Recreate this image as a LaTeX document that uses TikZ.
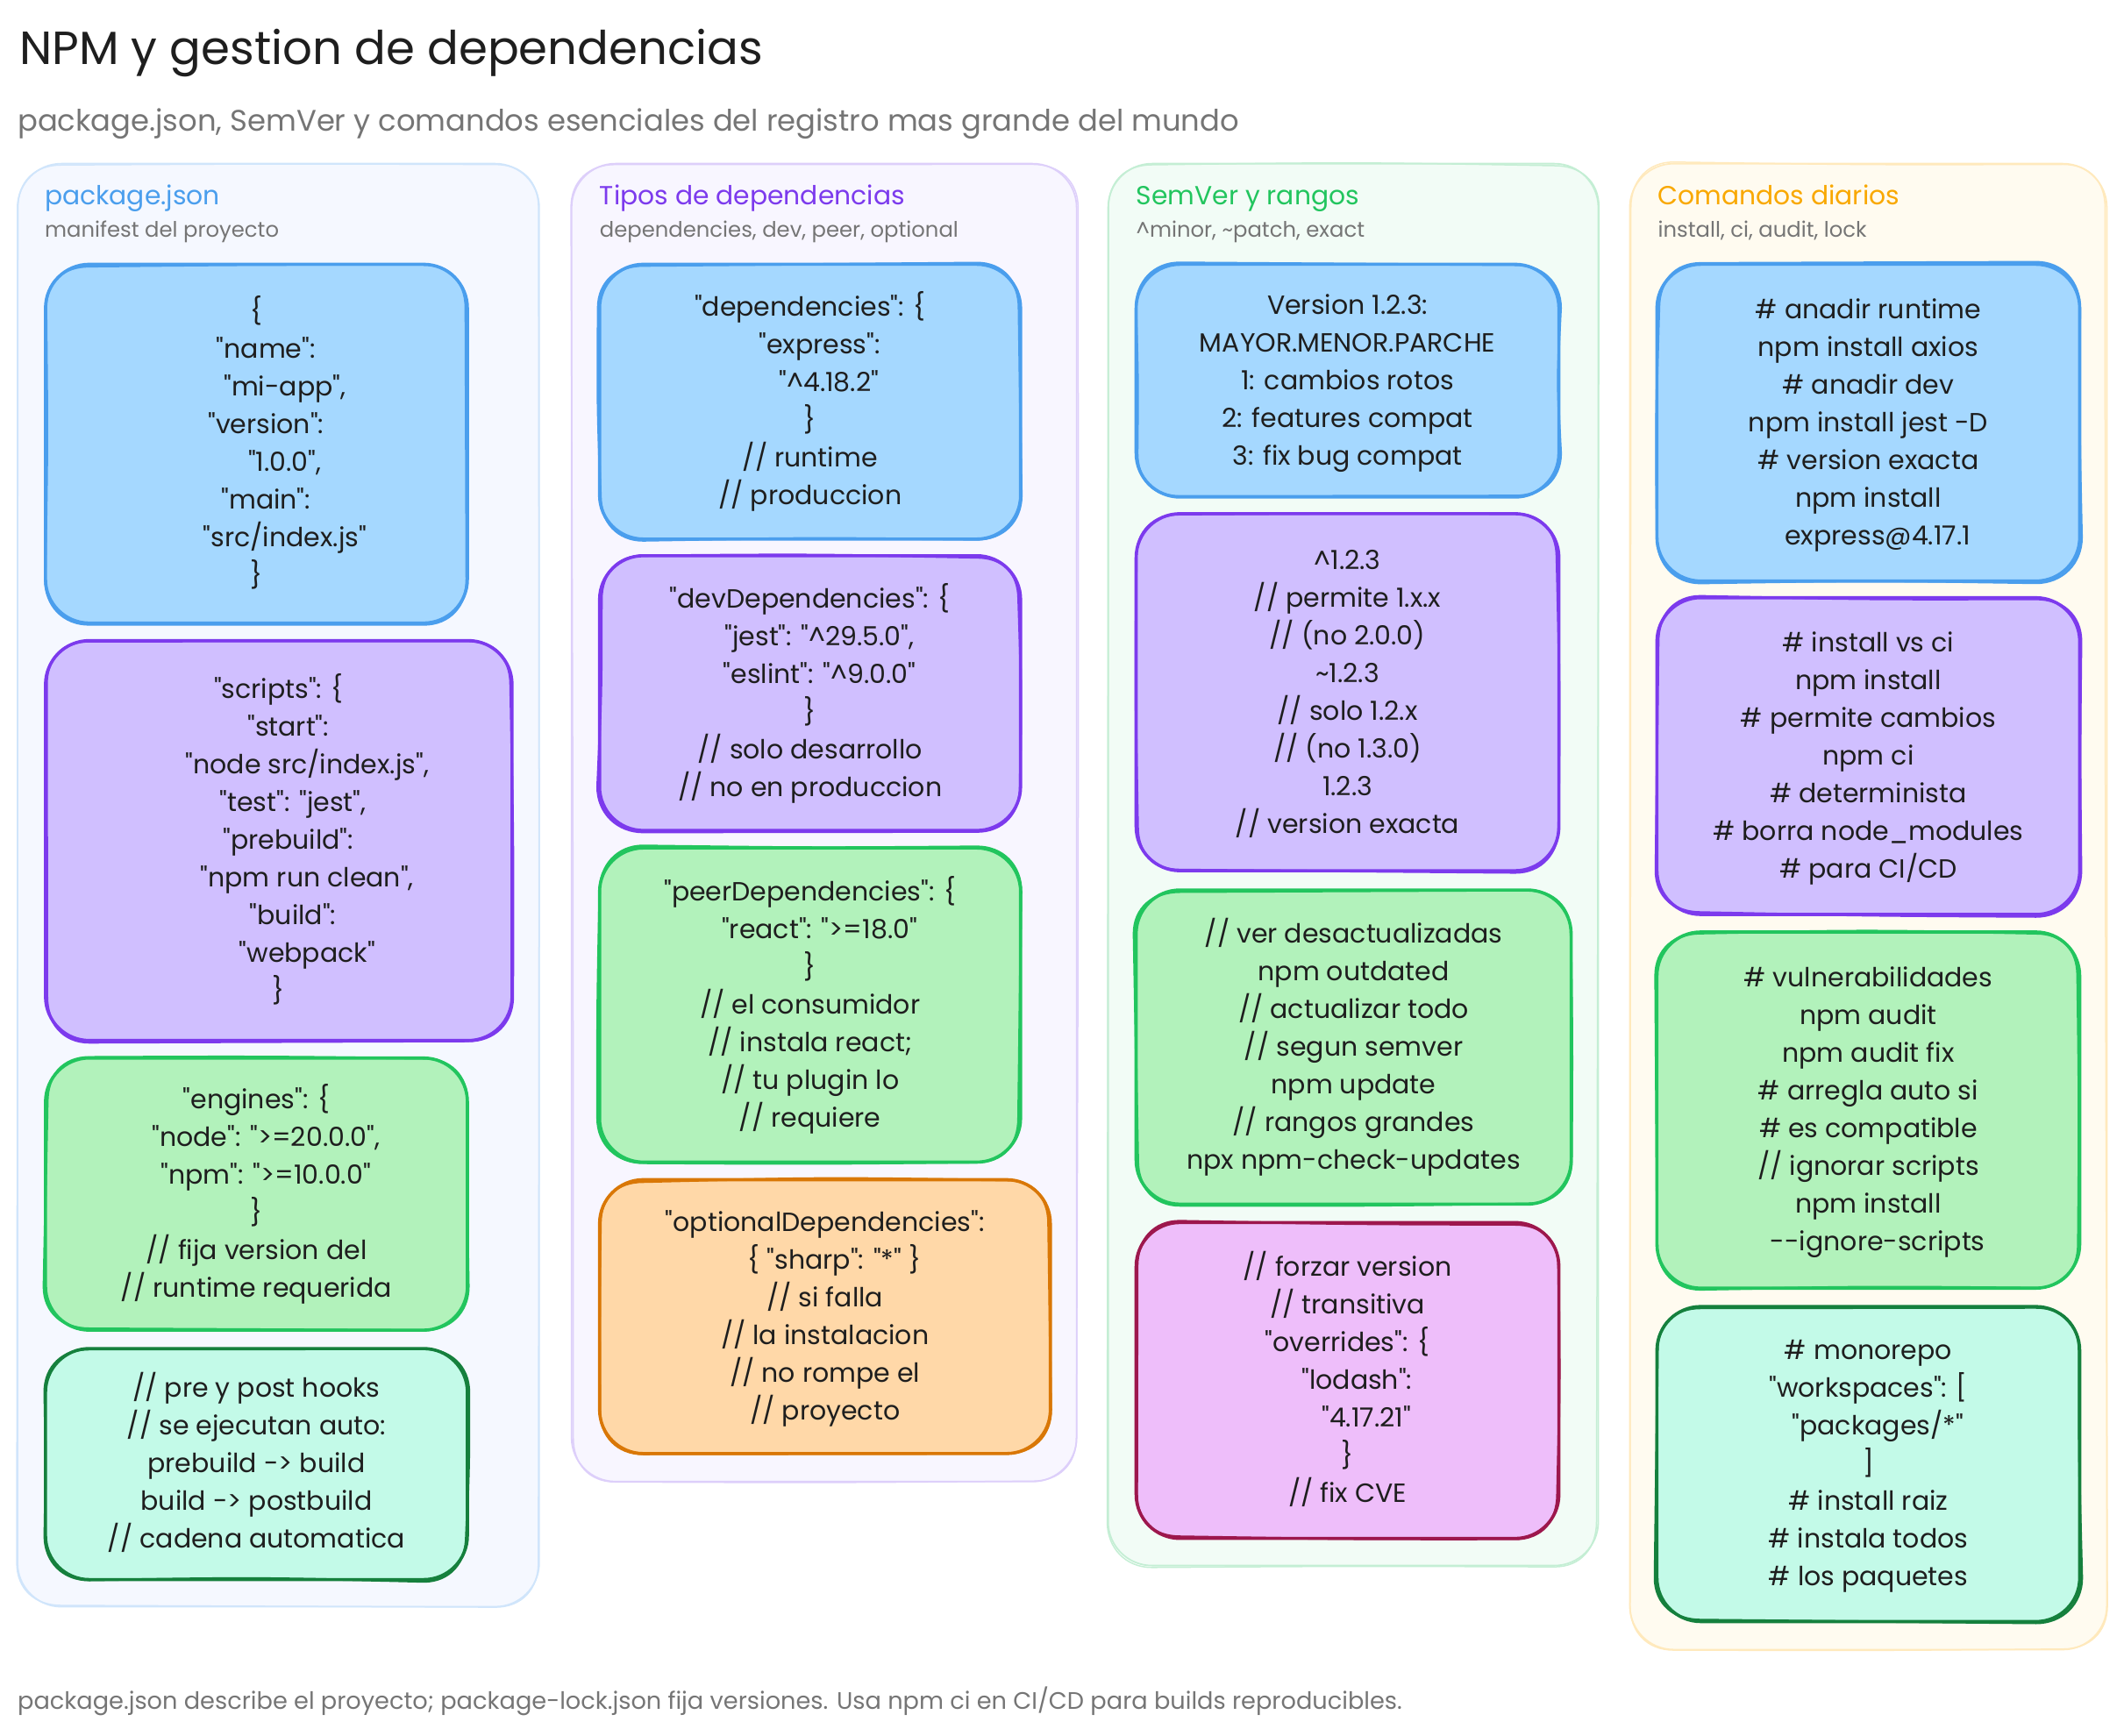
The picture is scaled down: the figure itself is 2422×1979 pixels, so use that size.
\documentclass[tikz,border=0pt]{standalone}
\usepackage{fontspec}
\usetikzlibrary{calc}
\setmainfont{Poppins}[Ligatures=Common]
\definecolor{ink}{HTML}{1E1E1E}
\definecolor{muted}{HTML}{757575}
\definecolor{bbfill}{HTML}{A5D8FF}\definecolor{bbline}{HTML}{4A9EED}
\definecolor{ppfill}{HTML}{D0BFFF}\definecolor{ppline}{HTML}{7C3AED}
\definecolor{ggfill}{HTML}{B2F2BB}\definecolor{ggline}{HTML}{22C55E}
\definecolor{oofill}{HTML}{FFD8A8}\definecolor{ooline}{HTML}{D97706}
\definecolor{ttfill}{HTML}{C3FAE8}\definecolor{ttline}{HTML}{15803D}
\definecolor{kkfill}{HTML}{EEBEFA}\definecolor{kkline}{HTML}{9D174D}
\definecolor{p1fill}{HTML}{F5F8FF}\definecolor{p1line}{HTML}{D0E5FB}\definecolor{p1title}{HTML}{4A9EED}
\definecolor{p2fill}{HTML}{F8F6FF}\definecolor{p2line}{HTML}{DDCFFA}\definecolor{p2title}{HTML}{7C3AED}
\definecolor{p3fill}{HTML}{F2FCF6}\definecolor{p3line}{HTML}{C4EED4}\definecolor{p3title}{HTML}{22C55E}
\definecolor{p4fill}{HTML}{FFFBF0}\definecolor{p4line}{HTML}{FFE9BC}\definecolor{p4title}{HTML}{F9A800}
\newcommand\lead[1]{\hspace*{\dimexpr #1\dimexpr 10.8pt\relax\relax}}
\newcommand\oq{\textquotedbl}
\def\pxs{0.9981}
\tikzset{
  x=\pxs pt,y=-\pxs pt,
  skbox/.style={rectangle,rounded corners=50pt,inner sep=0pt,outer sep=0pt,line width=3.6pt,
    align=center,text=ink,font=\fontsize{30}{43}\selectfont},
  skagain/.style={line width=2.6pt,line join=round,line cap=round},
  panelbox/.style={rectangle,rounded corners=50pt,inner sep=0pt,outer sep=0pt,line width=1.8pt},
  panelagain/.style={line width=1.5pt,line join=round,line cap=round},
  maintitle/.style={anchor=base west,inner sep=0pt,text=ink,font=\fontsize{53}{60}\selectfont},
  subtitle/.style={anchor=base west,inner sep=0pt,text=muted,font=\fontsize{33.8}{40}\selectfont},
  paneltitle/.style={anchor=base west,inner sep=0pt,font=\fontsize{29.8}{36}\selectfont},
  panelsub/.style={anchor=base west,inner sep=0pt,text=muted,font=\fontsize{24.3}{30}\selectfont},
  foot/.style={anchor=base west,inner sep=0pt,text=muted,font=\fontsize{27.2}{34}\selectfont},
}
% hand-drawn second stroke: x1,y1,x2,y2,r,amplitude,style
\newcommand\rough[7]{%
  \pgfmathsetmacro\ja{rand*#6}\pgfmathsetmacro\jb{rand*#6}\pgfmathsetmacro\jc{rand*#6}\pgfmathsetmacro\jd{rand*#6}%
  \pgfmathsetmacro\je{rand*#6}\pgfmathsetmacro\jf{rand*#6}\pgfmathsetmacro\jg{rand*#6}\pgfmathsetmacro\jh{rand*#6}%
  \pgfmathsetmacro\ji{rand*#6}\pgfmathsetmacro\jj{rand*#6}\pgfmathsetmacro\jk{rand*#6}\pgfmathsetmacro\jl{rand*#6}%
  \pgfmathsetmacro\xm{(#1+#3)/2}\pgfmathsetmacro\ym{(#2+#4)/2}%
  \draw[#7]
    ({#1+#5},{#2+\ja}) .. controls (\xm,{#2+\jb}) .. ({#3-#5},{#2+\jc})
    .. controls ({#3-.4*#5},{#2+\jc}) and ({#3+\jd},{#2+.4*#5}) .. ({#3+\jd},{#2+#5})
    .. controls ({#3+\je},\ym) .. ({#3+\jf},{#4-#5})
    .. controls ({#3+\jf},{#4-.4*#5}) and ({#3-.4*#5},{#4+\jg}) .. ({#3-#5},{#4+\jg})
    .. controls (\xm,{#4+\jh}) .. ({#1+#5},{#4+\ji})
    .. controls ({#1+.4*#5},{#4+\ji}) and ({#1+\jj},{#4-.4*#5}) .. ({#1+\jj},{#4-#5})
    .. controls ({#1+\jk},\ym) .. ({#1+\jl},{#2+#5})
    .. controls ({#1+\jl},{#2+.4*#5}) and ({#1+.4*#5},{#2+\ja}) .. ({#1+#5},{#2+\ja});
}
% name, x1, y1, x2, y2, colour prefix, text
\newcommand\skb[7]{%
  \node[skbox,fill=#6fill,draw=#6line,minimum width={(#4-#2)*\pxs pt},minimum height={(#5-#3)*\pxs pt}]
    (#1) at ({(#2+#4)/2},{(#3+#5)/2}) {\rule{0pt}{\dimexpr\ht\strutbox+3pt\relax}#7\strut};
  \rough{#2}{#3}{#4}{#5}{50}{2.6}{skagain,draw=#6line}
}
% name, x1, y1, x2, y2, colour prefix
\newcommand\pnl[6]{%
  \node[panelbox,fill=#6fill,draw=#6line,minimum width={(#4-#2)*\pxs pt},minimum height={(#5-#3)*\pxs pt}]
    (#1) at ({(#2+#4)/2},{(#3+#5)/2}) {};
  \rough{#2}{#3}{#4}{#5}{50}{2.4}{panelagain,draw=#6line}
}
\begin{document}
\begin{tikzpicture}
\pgfmathsetseed{11}
\useasboundingbox (0pt,0pt) rectangle (2422pt,-1979pt);

\node[maintitle] (title) at (22,74) {NPM y gestion de dependencias};
\node[subtitle] (subt) at (20,150) {package.json, SemVer y comandos esenciales del registro mas grande del mundo};

\pnl{p1}{20}{187}{616}{1836}{p1}
\pnl{p2}{653}{187}{1230}{1693}{p2}
\pnl{p3}{1266}{187}{1826}{1789}{p3}
\pnl{p4}{1862}{187}{2407}{1885}{p4}

\node[paneltitle,text=p1title] (t1) at (51,234) {package.json};
\node[panelsub] (s1) at (51,271) {manifest del proyecto};
\node[paneltitle,text=p2title] (t2) at (685,234) {Tipos de dependencias};
\node[panelsub] (s2) at (685,271) {dependencies, dev, peer, optional};
\node[paneltitle,text=p3title] (t3) at (1298,234) {SemVer y rangos};
\node[panelsub] (s3) at (1298,271) {\textasciicircum minor, \textasciitilde patch, exact};
\node[paneltitle,text=p4title] (t4) at (1894,234) {Comandos diarios};
\node[panelsub] (s4) at (1894,271) {install, ci, audit, lock};

% column 1
\skb{a1}{52}{302}{534}{712}{bb}{\{\\\lead{2}\oq name\oq:\\\lead{6}\oq mi-app\oq,\\\lead{2}\oq version\oq:\\\lead{6}\oq 1.0.0\oq,\\\lead{2}\oq main\oq:\\\lead{6}\oq src/index.js\oq\\\}}
\skb{a2}{52}{732}{585}{1189}{pp}{\oq scripts\oq: \{\\\lead{2}\oq start\oq:\\\lead{6}\oq node src/index.js\oq,\\\lead{3}\oq test\oq: \oq jest\oq,\\\lead{2}\oq prebuild\oq:\\\lead{6}\oq npm run clean\oq,\\\lead{3}\oq build\oq:\\\lead{6}\oq webpack\oq\\\}}
\skb{a3}{52}{1209}{534}{1520}{gg}{\oq engines\oq: \{\\\lead{2}\oq node\oq: \oq>=20.0.0\oq,\\\lead{2}\oq npm\oq: \oq>=10.0.0\oq\\\}\\// fija version del\\// runtime requerida}
\skb{a4}{52}{1541}{534}{1805}{tt}{// pre y post hooks\\// se ejecutan auto:\\prebuild -> build\\build -> postbuild\\// cadena automatica}

% column 2
\skb{b1}{685}{302}{1166}{616}{bb}{\oq dependencies\oq: \{\\\lead{2}\oq express\oq:\\\lead{4}\oq\textasciicircum 4.18.2\oq\\\}\\// runtime\\// produccion}
\skb{b2}{685}{635}{1166}{949}{pp}{\oq devDependencies\oq: \{\\\lead{2}\oq jest\oq: \oq\textasciicircum 29.5.0\oq,\\\lead{2}\oq eslint\oq: \oq\textasciicircum 9.0.0\oq\\\}\\// solo desarrollo\\// no en produccion}
\skb{b3}{685}{969}{1166}{1328}{gg}{\oq peerDependencies\oq: \{\\\lead{2}\oq react\oq: \oq>=18.0\oq\\\}\\// el consumidor\\// instala react;\\// tu plugin lo\\// requiere}
\skb{b4}{685}{1348}{1200}{1661}{oo}{\oq optionalDependencies\oq:\\\lead{2}\{ \oq sharp\oq: \oq*\oq\ \}\\// si falla\\// la instalacion\\// no rompe el\\// proyecto}

% column 3
\skb{c1}{1298}{302}{1781}{568}{bb}{Version 1.2.3:\\MAYOR.MENOR.PARCHE\\1: cambios rotos\\2: features compat\\3: fix bug compat}
\skb{c2}{1298}{587}{1781}{995}{pp}{\textasciicircum 1.2.3\\// permite 1.x.x\\// (no 2.0.0)\\\textasciitilde 1.2.3\\// solo 1.2.x\\// (no 1.3.0)\\1.2.3\\// version exacta}
\skb{c3}{1298}{1017}{1795}{1376}{gg}{// ver desactualizadas\\npm outdated\\// actualizar todo\\// segun semver\\npm update\\// rangos grandes\\npx npm-check-updates}
\skb{c4}{1298}{1397}{1781}{1758}{kk}{// forzar version\\// transitiva\\\oq overrides\oq: \{\\\lead{2}\oq lodash\oq:\\\lead{4}\oq 4.17.21\oq\\\}\\// fix CVE}

% column 4
\skb{d1}{1893}{302}{2376}{664}{bb}{\# anadir runtime\\npm install axios\\\# anadir dev\\npm install jest -D\\\# version exacta\\npm install\\\lead{2}express@4.17.1}
\skb{d2}{1893}{683}{2376}{1045}{pp}{\# install vs ci\\npm install\\\# permite cambios\\npm ci\\\# determinista\\\# borra node\_modules\\\# para CI/CD}
\skb{d3}{1893}{1065}{2376}{1472}{gg}{\# vulnerabilidades\\npm audit\\npm audit fix\\\# arregla auto si\\\# es compatible\\// ignorar scripts\\npm install\\\lead{2}{-}{-}ignore-scripts}
\skb{d4}{1893}{1493}{2376}{1853}{tt}{\# monorepo\\\oq workspaces\oq: [\\\lead{2}\oq packages/*\oq\\]\\\# install raiz\\\# instala todos\\\# los paquetes}

\node[foot] (footer) at (20,1953) {package.json describe el proyecto; package-lock.json fija versiones. Usa npm ci en CI/CD para builds reproducibles.};
\end{tikzpicture}
\end{document}
